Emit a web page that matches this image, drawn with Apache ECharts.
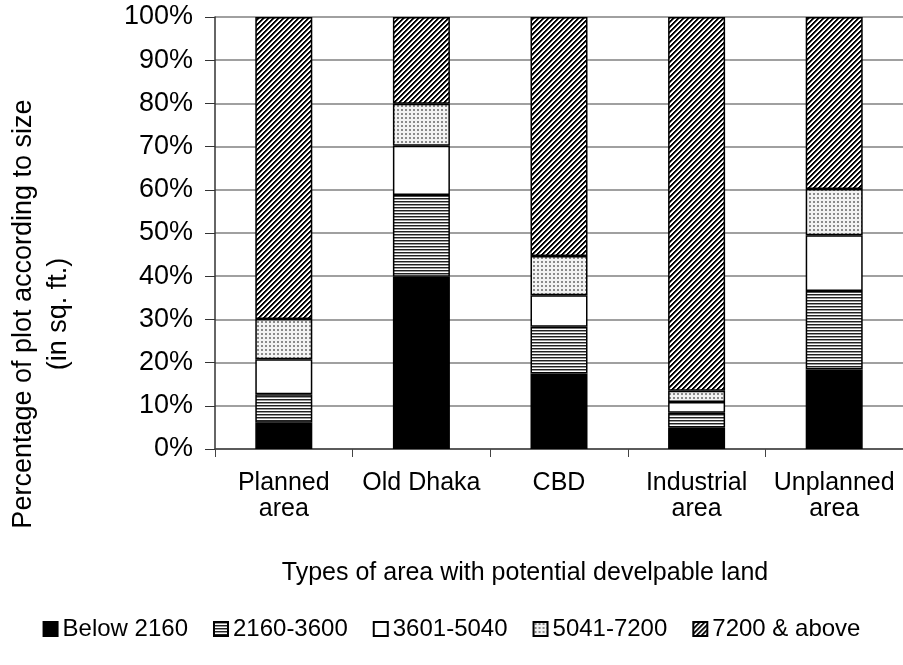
<!DOCTYPE html>
<html><head><meta charset="utf-8">
<script src="https://cdn.jsdelivr.net/npm/echarts@6/dist/echarts.min.js"></script>
<style>html,body{margin:0;padding:0;background:#fff}#c{width:903px;height:665px}</style>
</head><body><div id="c"></div>
<script>
const categories = ['Planned\narea', 'Old Dhaka', 'CBD', 'Industrial\narea', 'Unplanned\narea'];
const seriesNames = ['Below 2160', '2160-3600', '3601-5040', '5041-7200', '7200 & above'];
const below2160 = [6.1, 39.9, 17.5, 4.9, 18.4];
const size2160to3600 = [6.6, 18.9, 10.8, 3.5, 18.2];
const size3601to5040 = [8.1, 11.4, 7.3, 2.5, 12.9];
const size5041to7200 = [9.3, 9.7, 9.1, 2.6, 10.7];
const size7200above = [69.9, 20.1, 55.3, 86.5, 39.8];
const yTickStep = 10;
const yTitleLines = ['Percentage of plot according to size', '(in sq. ft.)'];
const xTitle = 'Types of area with potential develpable land';

const FONT = '"Liberation Sans", Arial, sans-serif';

function tile(w, h, bg, draw) {
  const c = document.createElement('canvas');
  c.width = w; c.height = h;
  const ctx = c.getContext('2d');
  ctx.fillStyle = bg; ctx.fillRect(0, 0, w, h);
  draw(ctx);
  return c;
}
const hStripe = tile(3, 3, '#fff', ctx => {
  ctx.fillStyle = '#222'; ctx.fillRect(0, 0, 3, 1);
  ctx.fillStyle = '#999'; ctx.fillRect(0, 1, 3, 1);
});
const dots = tile(4, 4, '#f2f2f2', ctx => {
  ctx.fillStyle = '#8a8a8a'; ctx.fillRect(1, 1, 2, 2);
});
const diag = tile(5, 5, '#fff', ctx => {
  for (let x = 0; x < 5; x++) for (let y = 0; y < 5; y++) {
    const d = (x + y) % 5;
    if (d === 0 || d === 1) { ctx.fillStyle = '#000'; ctx.fillRect(x, y, 1, 1); }
    else if (d === 2) { ctx.fillStyle = '#777'; ctx.fillRect(x, y, 1, 1); }
  }
});
const fills = [
  '#000',
  { image: hStripe, repeat: 'repeat' },
  '#fff',
  { image: dots, repeat: 'repeat' },
  { image: diag, repeat: 'repeat' }
];
const dataSets = [below2160, size2160to3600, size3601to5040, size5041to7200, size7200above];

const chart = echarts.init(document.getElementById('c'), null, { renderer: 'canvas' });
chart.setOption({
  animation: false,
  backgroundColor: '#fff',
  textStyle: { fontFamily: FONT },
  grid: { left: 215, top: 17, width: 690, height: 432, containLabel: false },
  legend: {
    data: seriesNames,
    left: 'center',
    top: 612,
    itemWidth: 14,
    itemHeight: 14,
    itemGap: 25,
    icon: 'rect',
    textStyle: { fontFamily: FONT, fontSize: 24, color: '#000' }
  },
  xAxis: {
    type: 'category',
    data: categories,
    axisLine: { show: true, lineStyle: { color: '#444', width: 1.5 } },
    axisTick: { show: true, length: 8, lineStyle: { color: '#444' } },
    axisLabel: { interval: 0, fontFamily: FONT, fontSize: 25, lineHeight: 26, color: '#000', margin: 21 },
    splitLine: { show: false }
  },
  yAxis: {
    type: 'value',
    min: 0, max: 100, interval: yTickStep,
    axisLine: { show: true, lineStyle: { color: '#333', width: 1.5 } },
    axisTick: { show: true, length: 10, lineStyle: { color: '#333' } },
    axisLabel: { formatter: '{value}%', fontFamily: FONT, fontSize: 27, color: '#000', margin: 22 },
    splitLine: { show: true, lineStyle: { color: '#808080', width: 1.5 } }
  },
  graphic: [
    { type: 'text', x: 24, y: 314, rotation: Math.PI / 2,
      style: { text: yTitleLines[0], font: '27px ' + FONT, fill: '#000', textAlign: 'center', textVerticalAlign: 'middle' } },
    { type: 'text', x: 59, y: 314, rotation: Math.PI / 2,
      style: { text: yTitleLines[1], font: '27px ' + FONT, fill: '#000', textAlign: 'center', textVerticalAlign: 'middle' } },
    { type: 'text', x: 525, y: 573,
      style: { text: xTitle, font: '25px ' + FONT, fill: '#000', textAlign: 'center', textVerticalAlign: 'middle' } }
  ],
  series: seriesNames.map((name, i) => ({
    name,
    type: 'bar',
    stack: 'total',
    barWidth: 57,
    data: dataSets[i],
    itemStyle: { color: fills[i], borderColor: '#000', borderWidth: 1.5 },
    emphasis: { disabled: true }
  }))
});
</script>
</body></html>
